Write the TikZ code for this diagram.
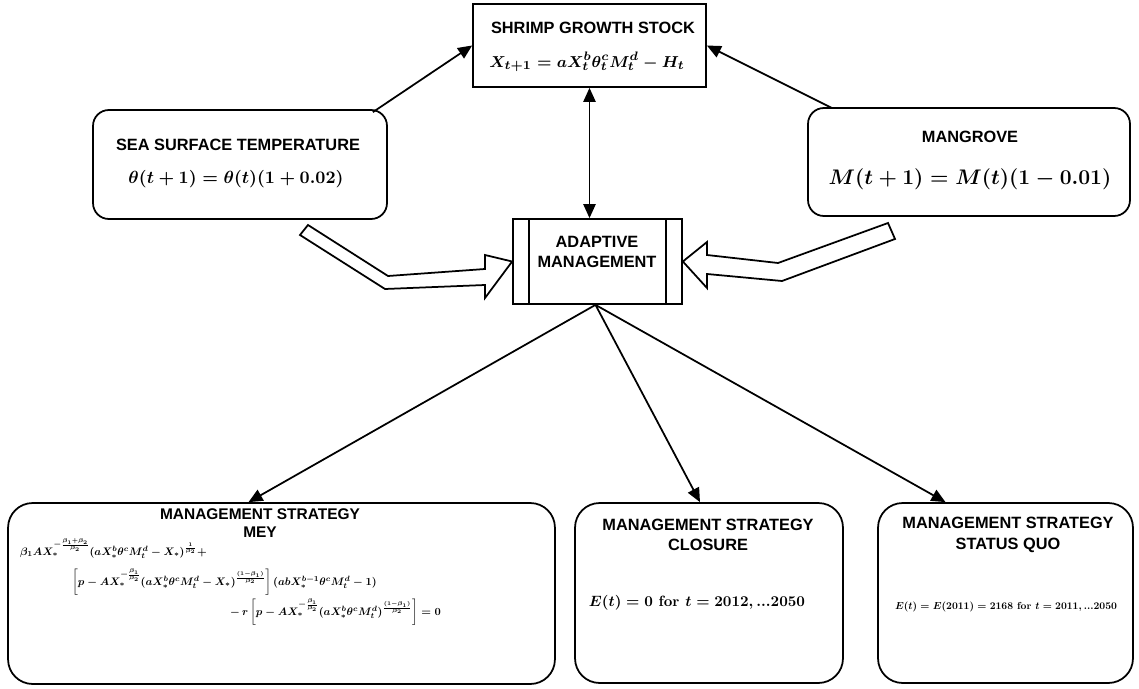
\documentclass[tikz,border=0pt]{standalone}
\usepackage{amsmath}
\usepackage{fontspec}
\newfontfamily\titlefont{Liberation Sans}
\usetikzlibrary{calc,arrows.meta,positioning}

\tikzset{
  boxtitle/.style={font=\titlefont\bfseries\fontsize{9.3}{11.5}\selectfont, align=center, inner sep=0pt},
  plainbox/.style={draw, line width=1pt, inner sep=0pt},
  roundbox/.style={plainbox, rounded corners=9pt},
  bigbox/.style={plainbox, rounded corners=14pt},
  link/.style={-{Triangle[length=8pt,width=7pt]}, line width=1pt},
  hollow/.style={draw, line width=1pt, fill=white, line join=miter},
  smalleq/.style={inner sep=0pt, font=\fontsize{10}{12}\selectfont, scale=#1, transform shape},
}
\newcommand{\eqn}[1]{{\boldmath$#1$}}

\begin{document}
\begin{tikzpicture}[x=0.02cm,y=-0.02cm]
\useasboundingbox (0,0) rectangle (1139,689);

% top row
\node[plainbox, minimum width=4.66cm, minimum height=1.66cm] (shrimp) at (589.5,45.5) {};
\node[boxtitle] (shrimpname) at (593,28) {SHRIMP GROWTH STOCK};
\node[inner sep=0pt, font=\fontsize{9.3}{11}\selectfont] (shrimpeq) at (587,62)
  {\eqn{X_{t+1} = aX_t^b\theta_t^c M_t^d - H_t}};

\node[roundbox, minimum width=5.88cm, minimum height=2.18cm] (sst) at (240,164.5) {};
\node[boxtitle] (sstname) at (238,145) {SEA SURFACE TEMPERATURE};
\node[inner sep=0pt, font=\fontsize{10}{12}\selectfont] (ssteq) at (236,179)
  {\eqn{\theta(t+1) = \theta(t)(1+0.02)}};

\node[roundbox, minimum width=6.44cm, minimum height=2.16cm] (mangrove) at (969,162) {};
\node[boxtitle] (mangrovename) at (970,137) {MANGROVE};
\node[inner sep=0pt, font=\fontsize{13}{15}\selectfont] (mangroveeq) at (970,179)
  {\eqn{M(t+1) = M(t)(1-0.01)}};

% centre
\node[plainbox, minimum width=3.38cm, minimum height=1.70cm] (adaptive) at (597.5,261.5) {};
\node[boxtitle] (adaptivename) at (597,252) {ADAPTIVE\\MANAGEMENT};
\draw[line width=1pt] ([xshift=0.34cm]adaptive.north west) -- ([xshift=0.34cm]adaptive.south west);
\draw[line width=1pt] ([xshift=-0.34cm]adaptive.north east) -- ([xshift=-0.34cm]adaptive.south east);

% bottom row
\node[bigbox, minimum width=10.94cm, minimum height=3.62cm] (mey) at (281.5,593.5) {};
\node[boxtitle, font=\titlefont\bfseries\fontsize{8.8}{10.5}\selectfont] (meyname) at (260,523) {MANAGEMENT STRATEGY\\MEY};
\begin{scope}[every node/.style={smalleq=0.62, anchor=base west}]
\node (meyeqa) at (20,555)
  {\eqn{\beta_1 AX_*^{-\frac{\beta_1+\beta_2}{\beta_2}}(aX_*^b\theta^c M_t^d - X_*)^{\frac{1}{\beta_2}} +}};
\node (meyeqb) at (72,585)
  {\eqn{\left[p - AX_*^{-\frac{\beta_1}{\beta_2}}(aX_*^b\theta^c M_t^d - X_*)^{\frac{(1-\beta_1)}{\beta_2}}\right](abX_*^{b-1}\theta^c M_t^d - 1)}};
\node (meyeqc) at (230,615)
  {\eqn{-\,r\left[p - AX_*^{-\frac{\beta_1}{\beta_2}}(aX_*^b\theta^c M_t^d)^{\frac{(1-\beta_1)}{\beta_2}}\right] = 0}};
\end{scope}

\node[bigbox, minimum width=5.36cm, minimum height=3.6cm] (closure) at (709,593) {};
\node[boxtitle] (closurename) at (708,535) {MANAGEMENT STRATEGY\\CLOSURE};
\node[smalleq=0.85] (closureeq) at (697,603)
  {\eqn{E(t) = 0 \text{\bfseries\ for\ } t = 2012, ...2050}};

\node[bigbox, minimum width=5.1cm, minimum height=3.6cm] (statusquo) at (1005.5,593) {};
\node[boxtitle] (statusquoname) at (1008,535) {MANAGEMENT STRATEGY\\STATUS QUO};
\node[smalleq=0.58] (statusquoeq) at (1006,607)
  {\eqn{E(t) = E(2011) = 2168 \text{\bfseries\ for\ } t = 2011, ...2050}};

% connectors
\draw[link] ($(sst.north east)+(-15,3)$) -- (shrimp.west);
\draw[link] ($(mangrove.north west)+(25,1)$) -- (shrimp.east);
\draw[link, {Triangle[length=8pt,width=7pt]}-{Triangle[length=8pt,width=7pt]}] (shrimp.south) -- (shrimp.south |- adaptive.north);
\draw[link] ($(adaptive.south)+(-2,0)$) -- ($(mey.north)+(-33,0)$);
\draw[link] ($(adaptive.south)+(-2,0)$) -- ($(closure.north)+(-9,0)$);
\draw[link] ($(adaptive.south)+(-2,0)$) -- ($(statusquo.north)+(-60,0)$);

% wide arrows into adaptive management
\draw[hollow] (300,235) -- (308,225) -- (388,276) -- (485,269) -- (485,255)
  -- (adaptive.west) -- (485,298) -- (485,285) -- (385,289) -- cycle;
\draw[hollow] (adaptive.east) -- (707,242) -- (707,255) -- (778,263) -- (888,223)
  -- (895,239) -- (782,281) -- (707,274) -- (707,288) -- cycle;

\end{tikzpicture}
\end{document}
